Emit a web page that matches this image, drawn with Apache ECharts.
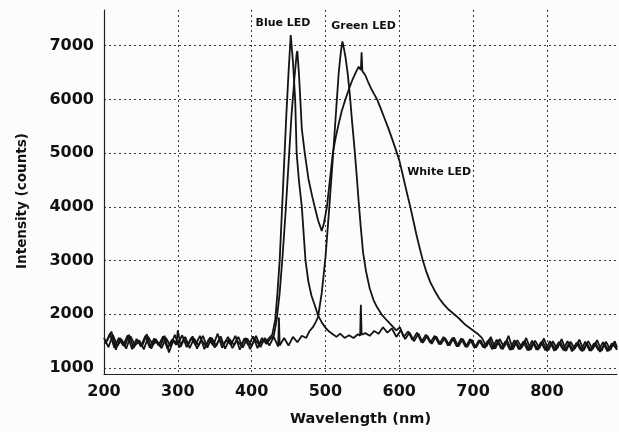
<!DOCTYPE html>
<html>
<head>
<meta charset="utf-8">
<script src="https://cdn.jsdelivr.net/npm/echarts@6/dist/echarts.min.js"></script>
<style>
  html, body { margin: 0; padding: 0; background: #fcfcfc; overflow: hidden; }
  #chart { width: 619px; height: 432px; }
</style>
</head>
<body>
<div id="chart"></div>
<script>
// wavelength (nm) / intensity (counts)
var xTicks = [200, 300, 400, 500, 600, 700, 800];
var yTicks = [1000, 2000, 3000, 4000, 5000, 6000, 7000];

var blueLed = [
  [200,1560],[206,1390],[212,1620],[218,1410],[224,1530],[230,1360],[236,1590],[242,1420],[248,1510],[254,1350],
  [260,1580],[266,1440],[272,1500],[278,1370],[284,1560],[290,1410],[296,1620],[302,1380],[308,1540],[314,1430],
  [320,1590],[326,1360],[332,1520],[338,1410],[344,1570],[350,1380],[356,1530],[362,1440],[368,1580],[374,1370],
  [380,1510],[386,1420],[392,1560],[398,1350],[404,1540],[410,1440],[416,1520],[420,1500],[424,1560],
  [428,1620],[432,1900],[435,2400],[438,3000],[441,3900],[444,4800],[447,5700],[450,6500],[453,7200],
  [456,6700],[459,6000],[461,5000],[464,4500],[468,4000],[473,3000],[477,2600],[481,2350],[486,2150],
  [490,1980],[495,1850],[500,1750],[505,1680],[510,1630],[515,1580],[520,1640],[526,1560],[532,1610],[538,1560],
  [544,1630],[547,1600],[548,2180],[549,1620],[554,1650],[560,1600],[566,1690],[572,1640],[578,1760],[584,1660],
  [590,1740],[596,1580],[602,1700],[608,1540],[614,1660],[620,1500],[626,1640],[632,1470],[638,1600],[644,1450],
  [650,1590],[656,1440],[662,1560],[668,1420],[674,1570],[680,1400],[686,1540],[692,1390],[698,1530],[704,1380],
  [710,1520],[716,1370],[722,1540],[728,1360],[734,1500],[740,1350],[746,1520],[752,1340],[758,1490],[764,1350],
  [770,1510],[776,1330],[782,1480],[788,1340],[794,1500],[800,1320],[806,1470],[812,1330],[818,1490],[824,1320],
  [830,1460],[836,1330],[842,1480],[848,1310],[854,1460],[860,1320],[866,1470],[872,1300],[878,1450],[884,1320],
  [890,1460],[895,1340]
];

var greenLed = [
  [202,1450],[208,1640],[214,1380],[220,1560],[226,1420],[232,1610],[238,1350],[244,1540],[250,1400],[256,1600],
  [262,1380],[268,1550],[274,1420],[280,1590],[286,1360],[292,1530],[298,1430],[300,1700],[304,1400],[310,1580],
  [316,1370],[322,1550],[328,1420],[334,1600],[340,1380],[346,1560],[352,1410],[358,1590],[364,1360],[370,1540],
  [376,1430],[382,1580],[388,1380],[394,1550],[400,1410],[406,1600],[412,1390],[418,1560],[424,1420],[430,1580],
  [436,1400],[437,1940],[438,1420],[444,1560],[450,1420],[456,1580],[462,1480],[468,1600],[474,1560],[478,1680],
  [483,1760],[487,1860],[490,1950],[495,2400],[500,3050],[505,3950],[510,4900],[514,5700],[518,6500],[521,6900],
  [523,7080],[525,6950],[527,6800],[530,6500],[533,6100],[536,5600],[539,5150],[542,4650],[545,4100],[548,3600],
  [551,3150],[555,2800],[560,2480],[565,2270],[570,2130],[576,2000],[583,1890],[590,1790],[596,1700],[601,1760],
  [606,1580],[612,1680],[618,1520],[624,1660],[630,1480],[636,1620],[642,1470],[648,1600],[654,1440],[660,1580],
  [666,1420],[672,1560],[678,1400],[684,1550],[690,1390],[696,1540],[702,1370],[708,1520],[714,1380],[720,1510],
  [726,1350],[732,1530],[738,1360],[744,1500],[750,1340],[756,1520],[762,1350],[768,1490],[774,1330],[780,1510],
  [786,1340],[792,1480],[798,1330],[804,1500],[810,1320],[816,1480],[822,1340],[828,1500],[834,1310],[840,1470],
  [846,1330],[852,1490],[858,1320],[864,1460],[870,1330],[876,1480],[882,1310],[888,1460],[895,1350]
];

var whiteLed = [
  [204,1500],[210,1680],[216,1340],[222,1560],[228,1400],[234,1620],[240,1370],[246,1520],[252,1420],[258,1630],
  [264,1360],[270,1540],[276,1400],[282,1600],[288,1290],[294,1520],[300,1450],[306,1610],[312,1390],[318,1560],
  [324,1430],[330,1600],[336,1350],[342,1540],[348,1420],[354,1640],[360,1380],[366,1520],[372,1430],[378,1600],
  [384,1340],[390,1550],[396,1420],[402,1590],[408,1370],[414,1560],[420,1450],[425,1540],
  [430,1600],[434,1900],[438,2400],[442,3100],[446,3900],[450,4800],[454,5700],[458,6400],[461,6850],[462,6900],
  [464,6500],[466,6000],[468,5450],[472,5000],[477,4520],[482,4200],[486,3970],[490,3750],[495,3550],[498,3700],
  [502,4000],[506,4500],[510,5000],[514,5300],[518,5550],[522,5780],[527,6000],[532,6200],[537,6380],[541,6500],
  [545,6610],[548,6550],[549,6880],[550,6530],[554,6450],[558,6320],[562,6200],[566,6100],[570,6000],[575,5830],
  [580,5650],[585,5470],[590,5280],[595,5080],[600,4870],[604,4640],[608,4400],[612,4170],[615,4000],[619,3750],
  [623,3500],[627,3270],[632,3000],[637,2780],[642,2600],[648,2440],[654,2300],[660,2190],[666,2100],[672,2030],
  [678,1960],[684,1880],[690,1800],[696,1740],[701,1690],[706,1640],[712,1560],[718,1400],[724,1580],[730,1360],
  [736,1540],[742,1390],[748,1600],[754,1350],[760,1520],[766,1380],[772,1560],[778,1340],[784,1510],[790,1370],
  [796,1550],[802,1330],[808,1500],[814,1360],[820,1540],[826,1320],[832,1490],[838,1360],[844,1530],[850,1330],
  [856,1500],[862,1350],[868,1520],[874,1320],[880,1490],[886,1340],[892,1500],[895,1380]
];

// text labels on the plot, [wavelength, counts, text]
var annotations = [
  [442.5, 7424, 'Blue LED'],
  [551.6, 7369, 'Green LED'],
  [654, 4655, 'White LED']
];

var chart = echarts.init(document.getElementById('chart'), null, { width: 619, height: 432 });

var gridLine = { show: true, lineStyle: { color: '#3a3a3a', type: [2, 3], width: 1 } };
var font = 'DejaVu Sans';

function spectrum(name, data, marks) {
  var s = {
    name: name,
    type: 'line',
    data: data,
    showSymbol: false,
    symbol: 'none',
    lineStyle: { color: '#141414', width: 1.8 },
    silent: true
  };
  if (marks) {
    s.markPoint = {
      symbol: 'circle',
      symbolSize: 0,
      label: {
        show: true,
        position: 'inside',
        color: '#111',
        fontFamily: font,
        fontWeight: 'bold',
        fontSize: 11,
        formatter: function (p) { return p.name; }
      },
      data: marks.map(function (a) { return { name: a[2], coord: [a[0], a[1]] }; })
    };
  }
  return s;
}

chart.setOption({
  animation: false,
  backgroundColor: '#fcfcfc',
  grid: { left: 104, width: 513, top: 10, height: 367 },
  xAxis: {
    type: 'value',
    min: 200,
    max: 895,
    name: 'Wavelength (nm)',
    nameLocation: 'middle',
    nameGap: 38,
    nameTextStyle: { fontFamily: font, fontWeight: 'bold', fontSize: 14.5, color: '#111' },
    axisLine: { show: true, onZero: false, lineStyle: { color: '#222', width: 1.2 } },
    axisTick: { show: false, customValues: xTicks },
    axisLabel: { customValues: xTicks, fontFamily: font, fontWeight: 'bold', fontSize: 16, color: '#111', margin: 10 },
    splitLine: gridLine
  },
  yAxis: {
    type: 'value',
    min: 889,
    max: 7665,
    axisLine: { show: true, onZero: false, lineStyle: { color: '#222', width: 1.2 } },
    axisTick: { show: false, customValues: yTicks },
    axisLabel: {
      customValues: yTicks,
      formatter: function (v) { return String(v); },
      fontFamily: font, fontWeight: 'bold', fontSize: 16, color: '#111', margin: 10
    },
    splitLine: gridLine
  },
  graphic: [{
    type: 'text',
    x: 22,
    y: 201,
    rotation: Math.PI / 2,
    style: {
      text: 'Intensity (counts)',
      fontFamily: font,
      fontWeight: 'bold',
      fontSize: 13.5,
      fill: '#111',
      align: 'center',
      verticalAlign: 'middle'
    }
  }],
  series: [
    spectrum('Blue LED', blueLed, null),
    spectrum('Green LED', greenLed, null),
    spectrum('White LED', whiteLed, annotations)
  ]
});
</script>
</body>
</html>
